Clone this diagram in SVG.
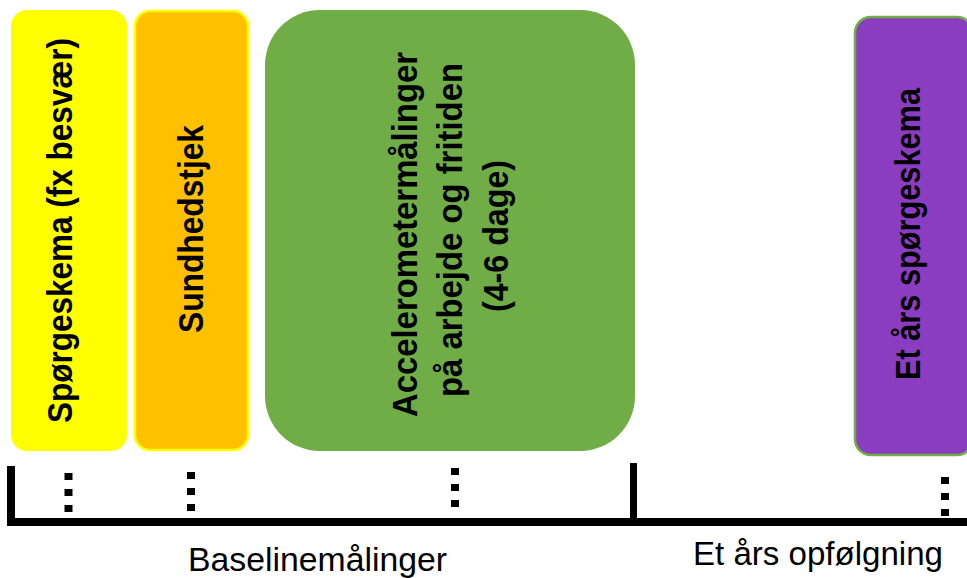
<svg xmlns="http://www.w3.org/2000/svg" width="967" height="578" viewBox="0 0 967 578">
<style>
.lbl{font-family:"Liberation Sans",Arial,sans-serif;font-weight:bold;font-size:35px;fill:#000;text-anchor:middle}
.axis{font-family:"Liberation Sans",Arial,sans-serif;font-size:34px;fill:#000;text-anchor:middle}
.dots{stroke:#000;stroke-width:8;stroke-dasharray:7 9;fill:none}
</style>
<rect width="967" height="578" fill="#fff"/>
<g id="node-spoergeskema">
<rect x="11" y="10" width="116" height="441" rx="16" fill="#FFFF00"/>
<text class="lbl" transform="translate(72,230.5) rotate(-90)" textLength="385" lengthAdjust="spacingAndGlyphs">Spørgeskema (fx besvær)</text>
</g>
<g id="node-sundhedstjek">
<rect x="135" y="11" width="113" height="439" rx="15" fill="#FFC000" stroke="#FFFF00" stroke-width="2.5"/>
<text class="lbl" transform="translate(203,229) rotate(-90)" textLength="208" lengthAdjust="spacingAndGlyphs">Sundhedstjek</text>
</g>
<g id="node-accelerometer">
<rect x="265" y="10" width="370" height="441" rx="55" fill="#70AD47"/>
<text class="lbl" transform="translate(417,234.5) rotate(-90)" textLength="365" lengthAdjust="spacingAndGlyphs">Accelerometermålinger</text>
<text class="lbl" transform="translate(462,230) rotate(-90)" textLength="334" lengthAdjust="spacingAndGlyphs">på arbejde og fritiden</text>
<text class="lbl" transform="translate(508,236) rotate(-90)" textLength="152" lengthAdjust="spacingAndGlyphs">(4-6 dage)</text>
</g>
<g id="node-etaars">
<rect x="855" y="17" width="118" height="438" rx="16" fill="#8B3DC1" stroke="#70AD47" stroke-width="2.5"/>
<text class="lbl" transform="translate(920,234) rotate(-90)" textLength="292" lengthAdjust="spacingAndGlyphs">Et års spørgeskema</text>
</g>
<g id="connectors">
<rect x="7" y="466" width="8" height="60" fill="#000"/>
<rect x="7" y="518" width="960" height="8" fill="#000"/>
<rect x="630" y="463" width="7" height="60" fill="#000"/>
<line class="dots" x1="68.5" y1="473" x2="68.5" y2="512"/>
<line class="dots" x1="191" y1="472" x2="191" y2="511"/>
<line class="dots" x1="455" y1="468" x2="455" y2="507"/>
<line class="dots" x1="945" y1="477" x2="945" y2="516"/>
</g>
<text class="axis" x="317.5" y="571" textLength="259" lengthAdjust="spacingAndGlyphs">Baselinemålinger</text>
<text class="axis" x="818" y="565" textLength="250" lengthAdjust="spacingAndGlyphs">Et års opfølgning</text>
</svg>
